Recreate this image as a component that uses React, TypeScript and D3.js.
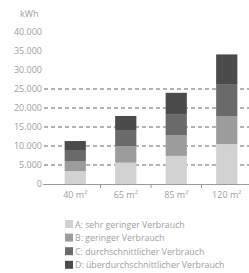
import * as d3 from 'd3'

const categories = ['40', '65', '85', '120']
const seriesNames = [
  'A: sehr geringer Verbrauch',
  'B: geringer Verbrauch',
  'C: durchschnittlicher Verbrauch',
  'D: überdurchschnittlicher Verbrauch',
]
const valuesA = [3400, 5600, 7400, 10500]
const valuesB = [2650, 4400, 5500, 7400]
const valuesC = [2900, 4200, 5500, 8400]
const valuesD = [2350, 3700, 5600, 7800]
const yTicks = [0, 5000, 10000, 15000, 20000, 25000, 30000, 35000, 40000]
const gridTicks = [5000, 10000, 15000, 20000, 25000]
const colors = ['#d2d2d2', '#9c9c9c', '#6a6a6a', '#4b4b4b']

const fmt = (v: number) => (v === 0 ? '0' : d3.format(',')(v).replace(',', '.'))

export default function App() {
  const width = 249
  const height = 273
  const font = "'Open Sans', sans-serif"

  const rows = categories.map((c, i) => ({
    cat: c,
    A: valuesA[i],
    B: valuesB[i],
    C: valuesC[i],
    D: valuesD[i],
  }))
  const stack = d3.stack<any>().keys(['A', 'B', 'C', 'D'])(rows)

  const x = d3.scaleBand().domain(categories).range([50, 252]).paddingInner(0.58).paddingOuter(0.29)
  const y = d3.scaleLinear().domain([0, 40000]).range([184, 32])

  const boundaries = categories.slice(1).map(c => (x(c) as number) - (x.step() * 0.58) / 2)

  return (
    <svg width={width} height={height} style={{ position: 'absolute', left: 0, top: 0 }}>
      <rect width={width} height={height} fill="#fff" />
      <text x={20} y={17} fontSize={9} fill="#a0a0a0" fontFamily={font}>kWh</text>
      {yTicks.map(t => (
        <text key={t} x={42} y={y(t) + 3.2} fontSize={9} fill="#a0a0a0" fontFamily={font} textAnchor="end">
          {fmt(t)}
        </text>
      ))}
      {gridTicks.map(t => (
        <line key={t} x1={44} x2={249} y1={y(t)} y2={y(t)} stroke="#666" strokeWidth={1} strokeDasharray="4,3" />
      ))}
      {stack.map((s, si) =>
        s.map((d, i) => (
          <rect
            key={si + '-' + i}
            x={x(categories[i])}
            y={y(d[1])}
            width={x.bandwidth()}
            height={y(d[0]) - y(d[1])}
            fill={colors[si]}
          />
        ))
      )}
      <line x1={43} x2={249} y1={184.5} y2={184.5} stroke="#999" strokeWidth={1} />
      {boundaries.map((b, i) => (
        <line key={i} x1={b} x2={b} y1={184} y2={188} stroke="#999" strokeWidth={1} />
      ))}
      {categories.map(c => (
        <text
          key={c}
          x={(x(c) as number) + x.bandwidth() / 2}
          y={198}
          fontSize={9}
          fill="#a0a0a0"
          fontFamily={font}
          textAnchor="middle"
        >
          {c} m²
        </text>
      ))}
      {seriesNames.map((n, i) => (
        <g key={n} transform={`translate(65,${220 + i * 13.6})`}>
          <rect width={8} height={8} fill={colors[i]} />
          <text x={10} y={7.5} fontSize={8.8} fill="#a0a0a0" fontFamily={font}>{n}</text>
        </g>
      ))}
    </svg>
  )
}
